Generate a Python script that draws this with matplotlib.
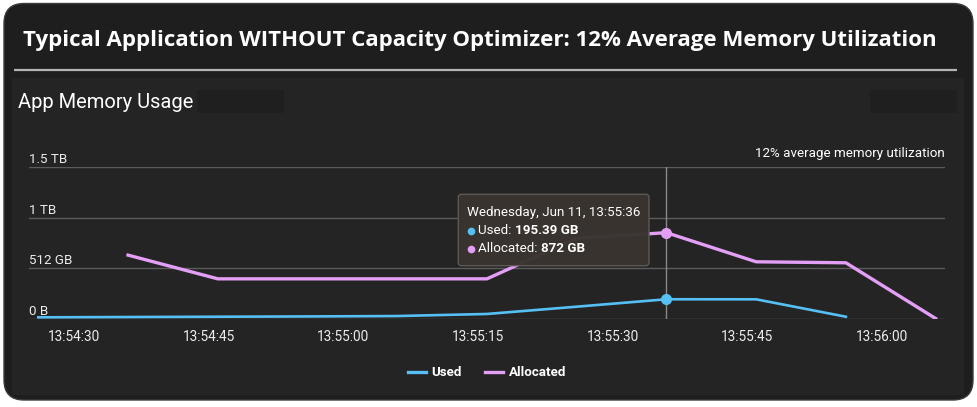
import matplotlib
matplotlib.use("Agg")
import matplotlib.pyplot as plt
from matplotlib.patches import FancyBboxPatch, Rectangle
from matplotlib.lines import Line2D

# ---------------- data ----------------
used_times = ["13:54:26", "13:54:36", "13:54:46", "13:54:56", "13:55:06", "13:55:16",
              "13:55:26", "13:55:36", "13:55:46", "13:55:56"]
used_gb = [12, 15, 18, 21, 25, 46, 120, 195.39, 195, 18]

alloc_times = ["13:54:36", "13:54:46", "13:54:56", "13:55:06", "13:55:16", "13:55:26",
               "13:55:36", "13:55:46", "13:55:56", "13:56:06"]
alloc_gb = [644, 403, 403, 403, 403, 815, 872, 576, 566, 0]

x_tick_labels = ["13:54:30", "13:54:45", "13:55:00", "13:55:15", "13:55:30", "13:55:45", "13:56:00"]
y_tick_values = [0, 512, 1024, 1536]
y_tick_labels = ["0 B", "512 GB", "1 TB", "1.5 TB"]

hover_time = "13:55:36"
hover_title = "Wednesday, Jun 11, 13:55:36"
hover_used = "195.39 GB"
hover_alloc = "872 GB"

title = "Typical Application WITHOUT Capacity Optimizer: 12% Average Memory Utilization"
subtitle = "App Memory Usage"
note = "12% average memory utilization"

USED_C = "#56c0f5"
ALLOC_C = "#e39ef6"

def to_sec(t):
    h, m, s = map(int, t.split(":"))
    return (h * 3600 + m * 60 + s) - (13 * 3600 + 54 * 60 + 30)

W, H = 978, 407
fig = plt.figure(figsize=(W / 100, H / 100), dpi=100)
fig.patch.set_facecolor("white")

# background / decoration axes in pixel coordinates
bg = fig.add_axes([0, 0, 1, 1], zorder=0)
bg.set_xlim(0, W)
bg.set_ylim(H, 0)
bg.axis("off")

bg.add_patch(FancyBboxPatch((4, 3.5), 969, 396.5,
                            boxstyle="round,pad=0,rounding_size=20",
                            fc="#1e1e1e", ec="#3c3c3c", lw=1))
bg.add_patch(Rectangle((12, 78), 952, 317, fc="#242424", ec="none"))
bg.plot([14, 957], [70, 70], color="#b4b4b4", lw=1.6, solid_capstyle="butt")
bg.text(480, 40.5, title, color="white", fontsize=16, fontweight="bold",
        family=["Open Sans", "DejaVu Sans"], ha="center", va="center")
bg.text(18, 102, subtitle, color="white", fontsize=14.5,
        family=["Roboto", "DejaVu Sans"], ha="left", va="center")
bg.add_patch(Rectangle((197, 90), 87, 23, fc="#1f1f1f", ec="none"))
bg.add_patch(Rectangle((870, 90), 87, 23, fc="#1f1f1f", ec="none"))
bg.text(945, 153.5, note, color="white", fontsize=9.6,
        family=["Roboto", "DejaVu Sans"], ha="right", va="center")

# legend (manual)
bg.add_line(Line2D([408, 426], [372.3, 372.3], color=USED_C, lw=2.4))
bg.text(431.5, 372.3, "Used", color="white", fontsize=9.6, fontweight="bold",
        family=["Roboto", "DejaVu Sans"], ha="left", va="center")
bg.add_line(Line2D([485, 503], [372.3, 372.3], color=ALLOC_C, lw=2.4))
bg.text(509, 372.3, "Allocated", color="white", fontsize=9.6, fontweight="bold",
        family=["Roboto", "DejaVu Sans"], ha="left", va="center")

# ---------------- data axes ----------------
left_px, right_px, top_px, bot_px = 29, 945, 167.3, 318.5
ax = fig.add_axes([left_px / W, (H - bot_px) / H, (right_px - left_px) / W,
                   (bot_px - top_px) / H], zorder=1)
ax.set_facecolor("none")
px_per_s = 8.973
x0_px = 74.2
ax.set_xlim((left_px - x0_px) / px_per_s, (right_px - x0_px) / px_per_s)
ax.set_ylim(0, 1536)
for sp in ax.spines.values():
    sp.set_visible(False)

ax.set_yticks(y_tick_values)
ax.set_yticklabels([])
ax.tick_params(axis="y", length=0)
ax.grid(axis="y", color="#5c5c5c", lw=1)
ax.set_axisbelow(True)

ax.set_xticks([to_sec(t) for t in x_tick_labels])
ax.set_xticklabels(x_tick_labels, color="#ececec", fontsize=9.8,
                   family=["Roboto", "DejaVu Sans"])
ax.tick_params(axis="x", length=0, pad=8)

for v, lab in zip(y_tick_values, y_tick_labels):
    ax.annotate(lab, xy=(0, v), xycoords=("axes fraction", "data"),
                xytext=(0, 0.6), textcoords="offset points",
                ha="left", va="bottom", color="#ececec", fontsize=9.6,
                family=["Roboto", "DejaVu Sans"])

hx = to_sec(hover_time)
ax.axvline(hx, color="#8a8a8a", lw=1, zorder=1.5)

ax.plot([to_sec(t) for t in used_times], used_gb, color=USED_C, lw=1.9,
        solid_joinstyle="round", zorder=3)
ax.plot([to_sec(t) for t in alloc_times], alloc_gb, color=ALLOC_C, lw=2.4,
        solid_joinstyle="round", zorder=3)
ax.plot([hx], [used_gb[used_times.index(hover_time)]], "o", color=USED_C, ms=7, zorder=4)
ax.plot([hx], [alloc_gb[alloc_times.index(hover_time)]], "o", color=ALLOC_C, ms=7, zorder=4)

# ---------------- tooltip overlay ----------------
ov = fig.add_axes([0, 0, 1, 1], zorder=2)
ov.set_xlim(0, W)
ov.set_ylim(H, 0)
ov.axis("off")
ov.set_facecolor("none")
ov.add_patch(FancyBboxPatch((458.3, 194.3), 190.7, 71.4,
                            boxstyle="round,pad=0,rounding_size=3",
                            fc="#39342f", ec="#5e5a55", lw=1, alpha=0.97))
fam = ["Roboto", "DejaVu Sans"]
ov.text(467.3, 212.3, hover_title, color="white", fontsize=9.6, family=fam,
        ha="left", va="center")
ov.plot([470.5], [231], "o", color=USED_C, ms=4.5)
t1 = ov.text(478.5, 231, "Used: ", color="white", fontsize=9.6, family=fam,
             ha="left", va="center")
ov.annotate(hover_used, xy=(1, 0), xycoords=t1, ha="left", va="bottom",
            color="white", fontsize=9.6, fontweight="bold", family=fam)
ov.plot([470.5], [249], "o", color=ALLOC_C, ms=4.5)
t2 = ov.text(478.5, 249, "Allocated: ", color="white", fontsize=9.6, family=fam,
             ha="left", va="center")
ov.annotate(hover_alloc, xy=(1, 0), xycoords=t2, ha="left", va="bottom",
            color="white", fontsize=9.6, fontweight="bold", family=fam)

fig.savefig("out.png", dpi=100, facecolor="white")
